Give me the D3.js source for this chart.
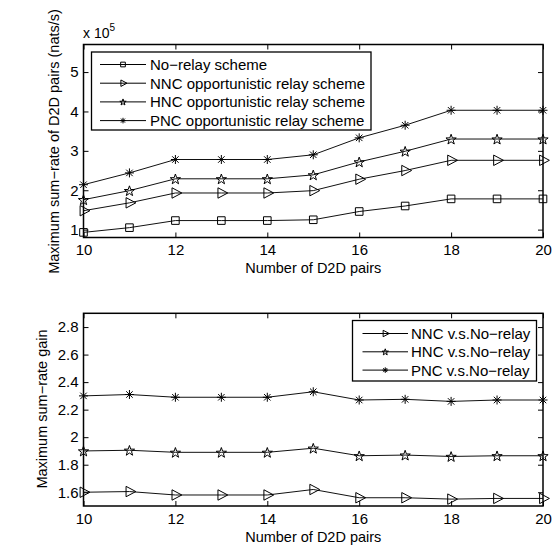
<!DOCTYPE html>
<html><head><meta charset="utf-8">
<script src="https://cdn.jsdelivr.net/npm/d3@7"></script>
<style>
html,body{margin:0;padding:0;background:#fff;}
text{font-family:"Liberation Sans",Arial,Helvetica,sans-serif;fill:#000;}
</style></head>
<body><svg id="c" width="553" height="548"></svg>
<script>
const pairs = [10,11,12,13,14,15,16,17,18,19,20];
// Top chart values (x 10^5 nats/s)
const noRelay = [0.93,1.05,1.23,1.23,1.23,1.25,1.46,1.60,1.78,1.78,1.78];
const nncRate = [1.48,1.68,1.93,1.93,1.93,1.99,2.28,2.50,2.76,2.76,2.76];
const hncRate = [1.76,1.99,2.29,2.29,2.29,2.39,2.72,2.99,3.30,3.30,3.30];
const pncRate = [2.14,2.44,2.78,2.78,2.78,2.90,3.33,3.65,4.03,4.03,4.03];
// Bottom chart gains
const nncGain = [1.60,1.605,1.58,1.58,1.58,1.62,1.56,1.56,1.55,1.555,1.555];
const hncGain = [1.90,1.905,1.89,1.89,1.89,1.92,1.865,1.87,1.86,1.865,1.865];
const pncGain = [2.30,2.31,2.29,2.29,2.29,2.33,2.27,2.275,2.26,2.27,2.27];
const xTicks = [10,12,14,16,18,20];
const yTicksTop = [1,2,3,4,5];
const yTicksBot = [1.6,1.8,2.0,2.2,2.4,2.6,2.8];
const topLegend = ["No\u2212relay scheme","NNC opportunistic relay scheme","HNC opportunistic relay scheme","PNC opportunistic relay scheme"];
const botLegend = ["NNC v.s.No\u2212relay","HNC v.s.No\u2212relay","PNC v.s.No\u2212relay"];
const xLabel = "Number of D2D pairs";
const yLabelTop = "Maximum sum\u2212rate of D2D pairs (nats/s)";
const yLabelBot = "Maximum sum\u2212rate gain";

const svg = d3.select("#c");
svg.append("rect").attr("width",553).attr("height",548).attr("fill","#fff");

function markerPath(type, s){
  const p = d3.path();
  if(type==="square"){
    const h=3.8*s; p.rect(-h,-h,2*h,2*h);
  } else if(type==="tri"){
    const a=3.4*s,b=6.4*s,h=5.2*s;
    p.moveTo(-a,-h);p.lineTo(b,0);p.lineTo(-a,h);p.closePath();
  } else if(type==="star"){
    const R=5.4*s, r=R*0.4;
    for(let i=0;i<10;i++){
      const rad = i%2===0?R:r;
      const ang = -Math.PI/2 + i*Math.PI/5;
      const x=rad*Math.cos(ang), y=rad*Math.sin(ang)+0.6*s;
      if(i===0)p.moveTo(x,y);else p.lineTo(x,y);
    }
    p.closePath();
  } else if(type==="ast"){
    const r=4.5*s, d=r*0.72;
    p.moveTo(-r,0);p.lineTo(r,0);p.moveTo(0,-r);p.lineTo(0,r);
    p.moveTo(-d,-d);p.lineTo(d,d);p.moveTo(-d,d);p.lineTo(d,-d);
  }
  return p.toString();
}

function panel(cfg){
  const g = svg.append("g");
  const x = d3.scaleLinear().domain([10,20]).range([cfg.left,cfg.right]);
  const y = d3.scaleLinear().domain(cfg.ydom).range([cfg.bottom,cfg.top]);
  const fs = "15px";
  const ab = g.append("g").attr("transform",`translate(0,${cfg.bottom})`)
    .call(d3.axisBottom(x).tickValues(xTicks).tickSizeInner(-5).tickSizeOuter(0).tickPadding(7).tickFormat(d3.format("d")));
  const at = g.append("g").attr("transform",`translate(0,${cfg.top})`)
    .call(d3.axisTop(x).tickValues(xTicks).tickSizeInner(-5).tickSizeOuter(0).tickFormat(""));
  const al = g.append("g").attr("transform",`translate(${cfg.left},0)`)
    .call(d3.axisLeft(y).tickValues(cfg.yticks).tickSizeInner(-5).tickSizeOuter(0).tickPadding(5).tickFormat(cfg.yfmt));
  const ar = g.append("g").attr("transform",`translate(${cfg.right},0)`)
    .call(d3.axisRight(y).tickValues(cfg.yticks).tickSizeInner(-5).tickSizeOuter(0).tickFormat(""));
  [ab,at,al,ar].forEach(a=>{
    a.select(".domain").remove();
    a.selectAll("line").attr("stroke","#000").attr("stroke-width",1);
    a.selectAll("text").style("font-size",fs).attr("fill","#000");
  });
  g.append("rect").attr("x",cfg.left).attr("y",cfg.top)
    .attr("width",cfg.right-cfg.left).attr("height",cfg.bottom-cfg.top)
    .attr("fill","none").attr("stroke","#000").attr("stroke-width",1.5);
  const line = d3.line().x((d,i)=>x(pairs[i])).y(d=>y(d));
  cfg.series.forEach(s=>{
    g.append("path").datum(s.values).attr("d",line).attr("fill","none")
      .attr("stroke","#111").attr("stroke-width",1);
    g.selectAll(null).data(s.values).enter().append("path")
      .attr("transform",(d,i)=>`translate(${x(pairs[i])},${y(d)})`)
      .attr("d",markerPath(s.marker,1)).attr("fill","none")
      .attr("stroke","#000").attr("stroke-width",1);
  });
  g.append("text").attr("x",(cfg.left+cfg.right)/2).attr("y",cfg.xlabY)
    .attr("text-anchor","middle").style("font-size","14.5px").text(xLabel);
  g.append("text").attr("transform",`translate(${cfg.ylabX},${cfg.ylabCY}) rotate(-90)`)
    .attr("text-anchor","middle").style("font-size","14.5px").text(cfg.ylabel);
  const L = cfg.legend;
  g.append("rect").attr("x",L.x).attr("y",L.y).attr("width",L.w).attr("height",L.h)
    .attr("fill","#fff").attr("stroke","#000").attr("stroke-width",1.3);
  cfg.series.forEach((s,i)=>{
    const yy = L.y0 + i*L.dy;
    g.append("line").attr("x1",L.lx1).attr("x2",L.lx2).attr("y1",yy).attr("y2",yy)
      .attr("stroke","#000").attr("stroke-width",1);
    g.append("path").attr("transform",`translate(${(L.lx1+L.lx2)/2},${yy})`)
      .attr("d",markerPath(s.marker,0.62)).attr("fill","none").attr("stroke","#000").attr("stroke-width",1);
    g.append("text").attr("x",L.tx).attr("y",yy).attr("dy","0.36em")
      .style("font-size",L.fs).text(s.name);
  });
  return {x,y,g};
}

const topPanel = panel({
  left:83.5,right:543,top:44.5,bottom:237.5,ydom:[0.8,5.7],yticks:yTicksTop,yfmt:d3.format("d"),
  xlabY:273,ylabX:59,ylabCY:141.5,ylabel:yLabelTop,
  series:[
    {values:noRelay,marker:"square",name:topLegend[0]},
    {values:nncRate,marker:"tri",name:topLegend[1]},
    {values:hncRate,marker:"star",name:topLegend[2]},
    {values:pncRate,marker:"ast",name:topLegend[3]}
  ],
  legend:{x:91.5,y:52,w:279.5,h:78,y0:64.5,dy:18.7,lx1:100,lx2:146,tx:150,fs:"15px"}
});
const ex = topPanel.g.append("text").attr("x",83).attr("y",38).style("font-size","14px");
ex.append("tspan").text("x 10");
ex.append("tspan").attr("dy",-7).style("font-size","10px").text("5");

panel({
  left:83.5,right:543,top:313.3,bottom:506,ydom:[1.5,2.9],yticks:yTicksBot,
  yfmt:d=>d3.format(".1f")(d).replace(/\.0$/,""),
  xlabY:542,ylabX:47,ylabCY:409,ylabel:yLabelBot,
  series:[
    {values:nncGain,marker:"tri",name:botLegend[0]},
    {values:hncGain,marker:"star",name:botLegend[1]},
    {values:pncGain,marker:"ast",name:botLegend[2]}
  ],
  legend:{x:352.5,y:320.5,w:184,h:60.5,y0:333.5,dy:18.3,lx1:362.5,lx2:408,tx:411,fs:"15px"}
});
</script></body></html>
